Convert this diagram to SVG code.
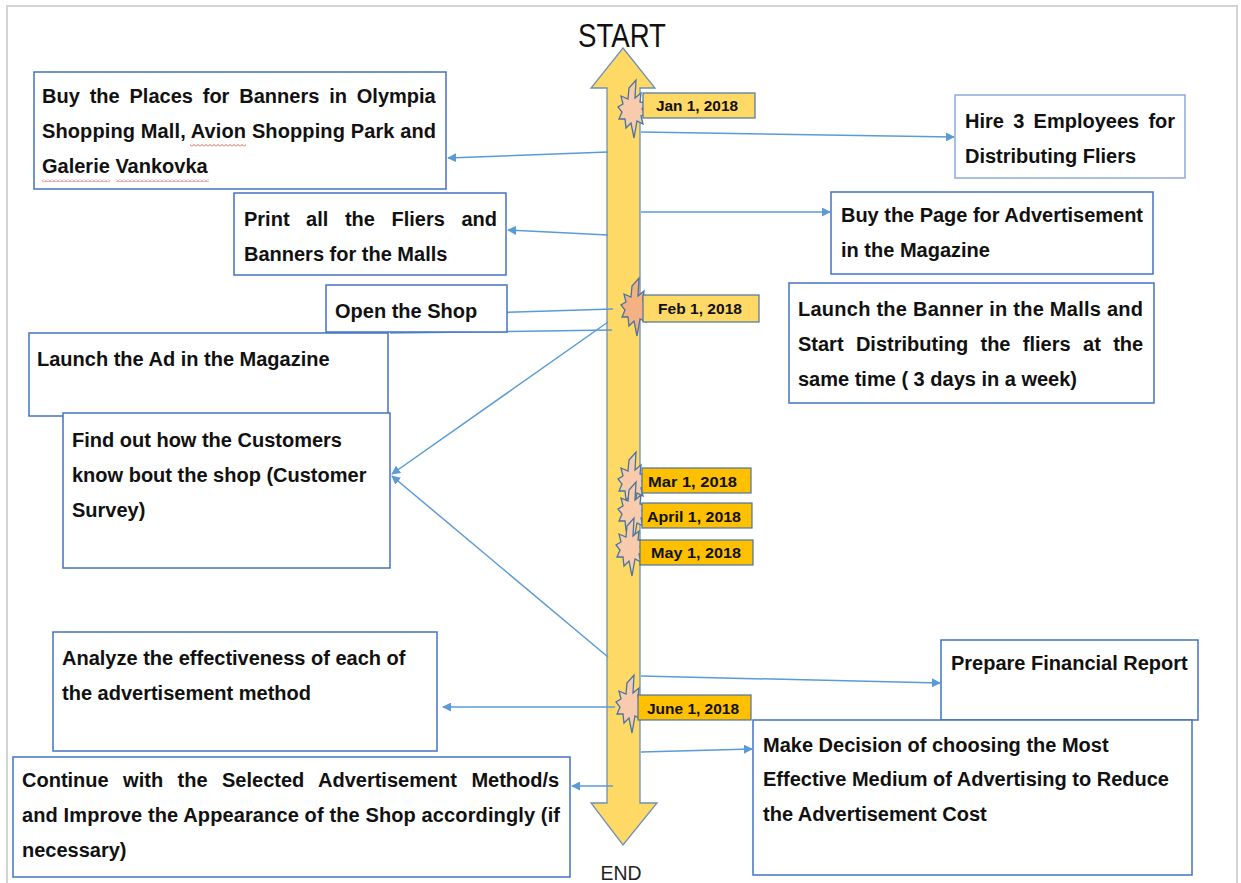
<svg xmlns="http://www.w3.org/2000/svg" width="1241" height="883" viewBox="0 0 1241 883">
<style>
.box{fill:#fff;stroke:#4472C4;stroke-width:1.5}
.boxl{fill:#fff;stroke:#8FAADC;stroke-width:1.5}
.t{font-family:"Liberation Sans",Arial,sans-serif;font-weight:bold;font-size:20px;fill:#111}
.d{font-family:"Liberation Sans",Arial,sans-serif;font-weight:bold;font-size:15px;fill:#111}
.dl1{fill:#FFD966;stroke:#4A73A0;stroke-width:1.2}
.dl2{fill:#FFC000;stroke:#4A73A0;stroke-width:1.2}
.burst{stroke:#4A73A0;stroke-width:1.3}
.c{stroke:#5B9BD5;stroke-width:1.5;fill:none}
.ca{stroke:#5B9BD5;stroke-width:1.5;fill:none;marker-end:url(#ah)}
</style>
<defs>
<marker id="ah" viewBox="0 0 10 10" refX="9" refY="5" markerWidth="6" markerHeight="6" orient="auto" markerUnits="strokeWidth">
<path d="M0,0 L10,5 L0,10 Z" fill="#5B9BD5"/>
</marker>
<path id="bs" d="M4,-30 L3,-12 L9,-17 L8,-8 L14,-7 L10,-1 L14,4 L9,6 L11,14 L5,11 L2,28 L-1,13 L-6,18 L-7,9 L-13,9 L-10,2 L-14,-3 L-9,-6 L-11,-14 L-4,-11 L-3,-22 Z"/>
<pattern id="wave" width="4" height="3" patternUnits="userSpaceOnUse">
<path d="M0,2.5 L2,0.5 L4,2.5" stroke="#E03030" fill="none" stroke-width="0.8"/>
</pattern>
</defs>
<rect width="1241" height="883" fill="#fff"/>
<path d="M7,883 V6 H1237 V883" fill="none" stroke="#D4D4D4" stroke-width="2"/>

<g id="timeline">
<path d="M623,48 L655,88 L640,88 L640,803 L657,803 L623,845 L591,803 L607,803 L607,88 L591,88 Z" fill="#FFD966" stroke="#6F8FB5" stroke-width="1.3"/>
<text x="622" y="47" font-family="Liberation Sans,Arial,sans-serif" font-size="34" text-anchor="middle" textLength="88" lengthAdjust="spacingAndGlyphs" fill="#111">START</text>
<text x="621" y="880" font-family="Liberation Sans,Arial,sans-serif" font-size="21" text-anchor="middle" textLength="41" lengthAdjust="spacingAndGlyphs" fill="#222">END</text>
</g>

<g id="connectors">
<line class="ca" x1="608" y1="152" x2="448" y2="158"/>
<line class="ca" x1="641" y1="132" x2="954" y2="137"/>
<line class="ca" x1="608" y1="235" x2="508" y2="230"/>
<line class="ca" x1="641" y1="212" x2="830" y2="212"/>
<line class="ca" x1="613" y1="309" x2="482" y2="313"/>
<line class="c" x1="612" y1="330" x2="390" y2="333"/>
<line class="ca" x1="608" y1="322" x2="392" y2="474"/>
<line class="ca" x1="608" y1="657" x2="392" y2="476"/>
<line class="ca" x1="641" y1="676" x2="940" y2="683"/>
<line class="ca" x1="615" y1="707" x2="443" y2="707"/>
<line class="ca" x1="641" y1="752" x2="752" y2="749"/>
<line class="ca" x1="613" y1="786" x2="572" y2="786"/>
</g>

<g id="date-jan">
<use href="#bs" x="632" y="110" class="burst" fill="#F8CBAD"/>
<rect class="dl1" x="643" y="93" width="112" height="25"/>
<text class="d" x="656" y="111" textLength="82" lengthAdjust="spacingAndGlyphs">Jan 1, 2018</text>
</g>
<g id="date-feb">
<use href="#bs" x="635" y="308" class="burst" fill="#F4B183"/>
<rect class="dl1" x="643" y="295" width="116" height="27"/>
<text class="d" x="658" y="314" textLength="84" lengthAdjust="spacingAndGlyphs">Feb 1, 2018</text>
</g>
<g id="date-mar">
<use href="#bs" x="632" y="482" class="burst" fill="#F8CBAD"/>
<rect class="dl2" x="642" y="468" width="109" height="25"/>
<text class="d" x="648" y="487" textLength="89" lengthAdjust="spacingAndGlyphs">Mar 1, 2018</text>
</g>
<g id="date-apr">
<use href="#bs" x="632" y="512" class="burst" fill="#F8CBAD"/>
<rect class="dl2" x="642" y="503" width="110" height="25"/>
<text class="d" x="647" y="522" textLength="94" lengthAdjust="spacingAndGlyphs">April 1, 2018</text>
</g>
<g id="date-may">
<use href="#bs" x="630" y="548" class="burst" fill="#F8CBAD"/>
<rect class="dl2" x="640" y="540" width="113" height="25"/>
<text class="d" x="651" y="558" textLength="90" lengthAdjust="spacingAndGlyphs">May 1, 2018</text>
</g>
<g id="date-jun">
<use href="#bs" x="630" y="705" class="burst" fill="#F8CBAD"/>
<rect class="dl2" x="638" y="695" width="113" height="25"/>
<text class="d" x="647" y="714" textLength="92" lengthAdjust="spacingAndGlyphs">June 1, 2018</text>
</g>

<g id="n-banners">
<rect class="box" x="34" y="72" width="412" height="117"/>
<text class="t" x="42" y="103" word-spacing="4.3">Buy the Places for Banners in Olympia</text>
<text class="t" x="42" y="138" textLength="394" lengthAdjust="spacing">Shopping Mall, Avion Shopping Park and</text>
<text class="t" x="42" y="173">Galerie Vankovka</text>
<rect x="190" y="144" width="56" height="3" fill="url(#wave)"/>
<rect x="42" y="179" width="68" height="3" fill="url(#wave)"/>
<rect x="116" y="179" width="93" height="3" fill="url(#wave)"/>
</g>
<g id="n-hire">
<rect class="boxl" x="955" y="95" width="230" height="83"/>
<text class="t" x="965" y="128" word-spacing="3.7">Hire 3 Employees for</text>
<text class="t" x="965" y="163">Distributing Fliers</text>
</g>
<g id="n-print">
<rect class="box" x="234" y="193" width="272" height="82"/>
<text class="t" x="244" y="226" word-spacing="11">Print all the Fliers and</text>
<text class="t" x="244" y="261">Banners for the Malls</text>
</g>
<g id="n-page">
<rect class="box" x="831" y="192" width="322" height="82"/>
<text class="t" x="841" y="222" textLength="302" lengthAdjust="spacing">Buy the Page for Advertisement</text>
<text class="t" x="841" y="257">in the Magazine</text>
</g>
<g id="n-open">
<rect class="box" x="326" y="285" width="181" height="47"/>
<text class="t" x="335" y="318">Open the Shop</text>
</g>
<g id="n-launch-banner">
<rect class="box" x="789" y="283" width="365" height="120"/>
<text class="t" x="798" y="316" textLength="345" lengthAdjust="spacing">Launch the Banner in the Malls and</text>
<text class="t" x="798" y="351" word-spacing="6.8">Start Distributing the fliers at the</text>
<text class="t" x="798" y="386">same time ( 3 days in a week)</text>
</g>
<g id="n-launch-ad">
<rect class="box" x="29" y="333" width="359" height="83"/>
<text class="t" x="37" y="366">Launch the Ad in the Magazine</text>
</g>
<g id="n-survey">
<rect class="box" x="63" y="413" width="327" height="155"/>
<text class="t" x="72" y="447">Find out how the Customers</text>
<text class="t" x="72" y="482">know bout the shop (Customer</text>
<text class="t" x="72" y="517">Survey)</text>
</g>
<g id="n-report">
<rect class="box" x="941" y="640" width="257" height="80"/>
<text class="t" x="951" y="670">Prepare Financial Report</text>
</g>
<g id="n-analyze">
<rect class="box" x="53" y="632" width="384" height="119"/>
<text class="t" x="62" y="665">Analyze the effectiveness of each of</text>
<text class="t" x="62" y="700">the advertisement method</text>
</g>
<g id="n-decision">
<rect class="box" x="753" y="720" width="439" height="155"/>
<text class="t" x="763" y="752">Make Decision of choosing the Most</text>
<text class="t" x="763" y="786">Effective Medium of Advertising to Reduce</text>
<text class="t" x="763" y="821">the Advertisement Cost</text>
</g>
<g id="n-continue">
<rect class="box" x="13" y="757" width="557" height="120"/>
<text class="t" x="22" y="787" word-spacing="8.9">Continue with the Selected Advertisement Method/s</text>
<text class="t" x="22" y="822" textLength="538" lengthAdjust="spacing">and Improve the Appearance of the Shop accordingly (if</text>
<text class="t" x="22" y="857">necessary)</text>
</g>
</svg>
